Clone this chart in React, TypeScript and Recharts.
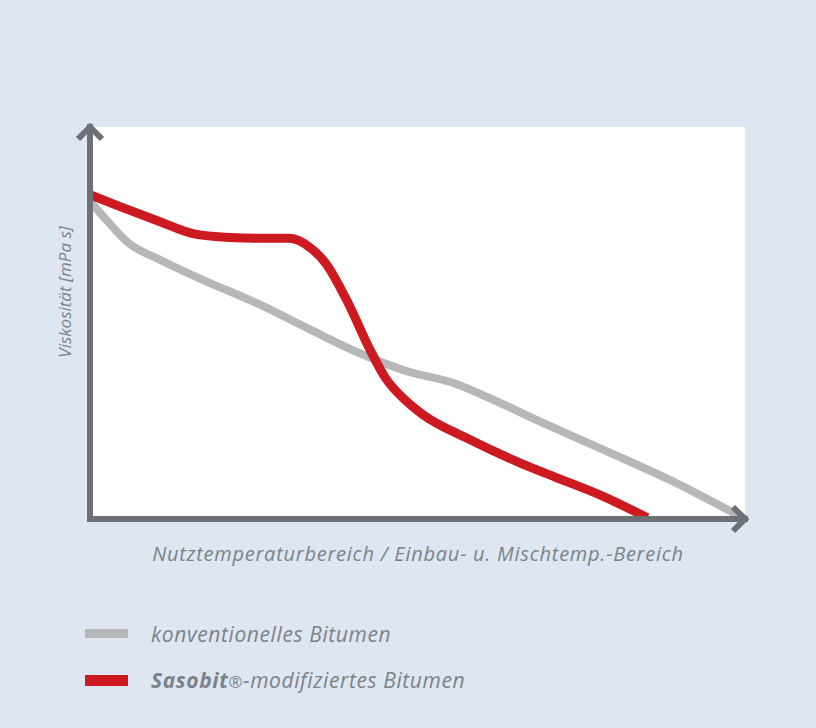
import { CartesianGrid, Line, LineChart, XAxis, YAxis } from "recharts";

// positions along the temperature axis (0 = left, 100 = right) and viscosity (0..100)
const CONV_X = [0, 3, 5.6, 10.6, 16.7, 25.8, 33.4, 41, 48.2, 55.8, 60.8, 68.4, 78.6, 88.6, 100];
const CONV_Y = [81, 75.4, 70.8, 66.2, 61.4, 54.8, 48.5, 42.4, 37.8, 34.5, 31, 25.1, 17.5, 9.9, 0];

const SASO_X = [0, 4.6, 10.6, 15.7, 21.3, 25.8, 30.4, 33.4, 36, 39.5, 42.6, 45.1, 48.2, 50.6, 58.2, 65.8, 71, 78.6, 85.1];
const SASO_Y = [82.7, 79.7, 75.9, 72.8, 71.8, 71.6, 71.6, 69.5, 65.2, 54.8, 43.7, 36, 30.2, 26.9, 20.1, 14.2, 10.7, 5.6, 0.3];

const SERIES_NAMES = ["konventionelles Bitumen", "Sasobit®-modifiziertes Bitumen"];
const X_TITLE = "Nutztemperaturbereich / Einbau- u. Mischtemp.-Bereich";
const Y_TITLE = "Viskosität [mPa s]";

const conv = CONV_X.map((x, i) => ({ x, y: CONV_Y[i] }));
const saso = SASO_X.map((x, i) => ({ x, y: SASO_Y[i] }));

const BG = "#dde6f1";
const AXIS = "#6d7176";
const GREY = "#b5b7b9";
const RED = "#cc1a20";
const TEXT = "#7d8288";
const FONT = "'Open Sans', sans-serif";

export default function App() {
	return (
		<div
			style={{
				position: "absolute",
				left: 0,
				top: 0,
				width: 816,
				height: 728,
				background: BG,
				fontFamily: FONT,
			}}
		>
			<svg width={0} height={0} style={{ position: "absolute" }}>
				<defs>
					<marker
						id="axisArrow"
						viewBox="-20 -20 40 40"
						markerWidth={40}
						markerHeight={40}
						refX={0}
						refY={0}
						orient="auto-start-reverse"
						markerUnits="userSpaceOnUse"
					>
						<path d="M-12,-12 L0,0 L-12,12" fill="none" stroke={AXIS} strokeWidth={6} />
					</marker>
				</defs>
			</svg>
			<LineChart
				width={816}
				height={728}
				margin={{ top: 127, right: 71, bottom: 208, left: 89 }}
			>
				<CartesianGrid fill="#ffffff" stroke="none" horizontal={false} vertical={false} />
				<XAxis
					type="number"
					dataKey="x"
					domain={[0, 100]}
					height={1}
					tick={false}
					tickLine={false}
					axisLine={{ stroke: AXIS, strokeWidth: 6, strokeLinecap: "square", markerEnd: "url(#axisArrow)" }}
				/>
				<YAxis
					type="number"
					dataKey="y"
					domain={[0, 100]}
					width={1}
					tick={false}
					tickLine={false}
					axisLine={{ stroke: AXIS, strokeWidth: 6, strokeLinecap: "square", markerStart: "url(#axisArrow)" }}
				/>
				<Line
					data={conv}
					dataKey="y"
					type="monotone"
					stroke={GREY}
					strokeWidth={8}
					dot={false}
					isAnimationActive={false}
				/>
				<Line
					data={saso}
					dataKey="y"
					type="monotone"
					stroke={RED}
					strokeWidth={9}
					dot={false}
					isAnimationActive={false}
				/>
			</LineChart>
			<div
				style={{
					position: "absolute",
					left: 0,
					width: 836,
					top: 541,
					lineHeight: "26px",
					textAlign: "center",
					fontStyle: "italic",
					fontSize: 20,
					letterSpacing: 0.75,
					color: TEXT,
				}}
			>
				{X_TITLE}
			</div>
			<div
				style={{
					position: "absolute",
					left: 64,
					top: 292,
					transform: "translate(-50%, -50%) rotate(-90deg)",
					whiteSpace: "nowrap",
					fontStyle: "italic",
					fontSize: 17,
					color: TEXT,
				}}
			>
				{Y_TITLE}
			</div>
			{SERIES_NAMES.map((name, i) => (
				<div key={name}>
					<div
						style={{
							position: "absolute",
							left: 85,
							top: i === 0 ? 629 : 675,
							width: 43,
							height: i === 0 ? 9 : 11,
							background: i === 0 ? GREY : RED,
						}}
					/>
					<div
						style={{
							position: "absolute",
							left: 151,
							top: i === 0 ? 621 : 667,
							lineHeight: "26px",
							fontStyle: "italic",
							fontSize: 21,
							letterSpacing: 0.6,
							color: TEXT,
							whiteSpace: "nowrap",
						}}
					>
						{i === 1 ? (
							<>
								<b>Sasobit</b>
								<span style={{ fontSize: "0.8em" }}>®</span>
								{name.slice(8)}
							</>
						) : (
							name
						)}
					</div>
				</div>
			))}
		</div>
	);
}
